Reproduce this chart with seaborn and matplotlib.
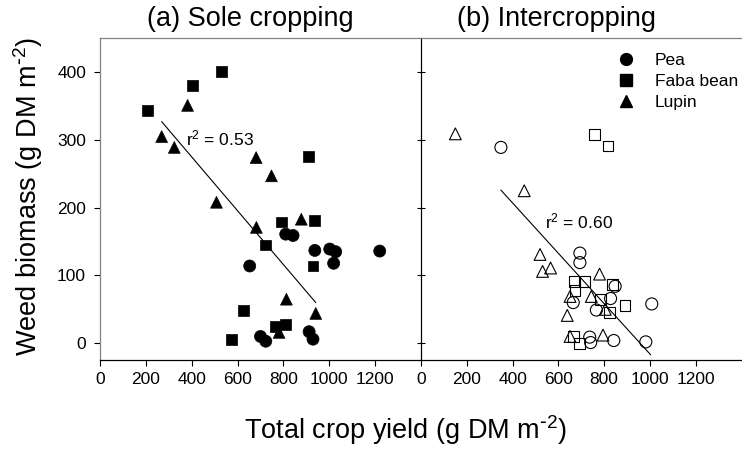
import seaborn as sns
import matplotlib.pyplot as plt
from matplotlib.lines import Line2D
import pandas as pd

# Sole cropping
sole_pea_x = [810, 842, 937, 1002, 1028, 1220, 653, 1019, 700, 723, 912, 929]
sole_pea_y = [161, 159, 137, 139, 135, 136, 114, 118, 10, 3, 17, 6]
sole_faba_x = [206, 404, 530, 910, 791, 937, 723, 929, 627, 767, 810, 573]
sole_faba_y = [343, 380, 401, 276, 179, 181, 145, 114, 48, 25, 28, 5]
sole_lupin_x = [382, 269, 324, 681, 748, 508, 878, 682, 813, 941, 781]
sole_lupin_y = [351, 305, 289, 274, 247, 208, 183, 171, 65, 44, 16]

# Intercropping
inter_pea_x = [349, 694, 694, 848, 665, 828, 1008, 766, 737, 741, 842, 982]
inter_pea_y = [289, 133, 119, 84, 60, 66, 58, 49, 9, 1, 4, 2]
inter_faba_x = [759, 817, 668, 716, 838, 673, 785, 891, 824, 665, 694]
inter_faba_y = [308, 291, 91, 91, 87, 78, 65, 56, 45, 10, 0]
inter_lupin_x = [150, 451, 780, 651, 744, 805, 639, 651, 795, 520, 531, 566]
inter_lupin_y = [309, 225, 102, 69, 69, 50, 41, 10, 12, 131, 106, 111]

# regression lines (end points)
sole_fit_x = [269, 941]
sole_fit_y = [327, 60]
inter_fit_x = [349, 1003]
inter_fit_y = [226, -17]

crops = ['Pea', 'Faba bean', 'Lupin']
markers = {'Pea': 'o', 'Faba bean': 's', 'Lupin': '^'}
sizes = {'Pea': 75, 'Faba bean': 60, 'Lupin': 72}
xticks = [0, 200, 400, 600, 800, 1000, 1200]
yticks = [0, 100, 200, 300, 400]


def make_df(px, py, fx, fy, lx, ly):
    return pd.DataFrame({
        'yield': px + fx + lx,
        'weed': py + fy + ly,
        'crop': ['Pea'] * len(px) + ['Faba bean'] * len(fx) + ['Lupin'] * len(lx),
    })


sole = make_df(sole_pea_x, sole_pea_y, sole_faba_x, sole_faba_y, sole_lupin_x, sole_lupin_y)
inter = make_df(inter_pea_x, inter_pea_y, inter_faba_x, inter_faba_y, inter_lupin_x, inter_lupin_y)

sns.set_style('white')
plt.rcParams['font.family'] = ['Liberation Sans', 'DejaVu Sans']
plt.rcParams['mathtext.default'] = 'regular'
for k in ('text.color', 'axes.labelcolor', 'xtick.color', 'ytick.color'):
    plt.rcParams[k] = 'black'

fig = plt.figure(figsize=(7.42, 4.51), dpi=100)
ax1 = fig.add_axes([100 / 742, 91.5 / 451, 321 / 742, 321.2 / 451])
ax2 = fig.add_axes([421 / 742, 91.5 / 451, 320.5 / 742, 321.2 / 451])

sns.scatterplot(data=sole, x='yield', y='weed', style='crop', markers=markers,
                size='crop', sizes=sizes, color='black', edgecolor='black',
                linewidth=0.5, legend=False, ax=ax1)
sns.scatterplot(data=inter, x='yield', y='weed', style='crop', markers=markers,
                size='crop', sizes=sizes, color='black', facecolor='none',
                edgecolor='black', linewidth=0.8, legend=False, ax=ax2)

ax1.plot(sole_fit_x, sole_fit_y, color='black', lw=0.8)
ax2.plot(inter_fit_x, inter_fit_y, color='black', lw=0.8)

ax1.text(377, 302, 'r$^2$ = 0.53', fontsize=12.5, va='center')
ax2.text(540, 180, 'r$^2$ = 0.60', fontsize=12.5, va='center')

for ax in (ax1, ax2):
    ax.set_xlim(0, 1400)
    ax.set_ylim(-24, 450)
    ax.set_xticks(xticks)
    ax.set_yticks(yticks)
    ax.set_xlabel('')
    ax.set_ylabel('')
    ax.tick_params(axis='x', direction='out', length=4, width=0.8, pad=5,
                   labelsize=12.5, bottom=True)
    for s in ax.spines.values():
        s.set_linewidth(0.9)
    ax.spines['top'].set_color('#808080')
    ax.spines['bottom'].set_color('black')

ax1.tick_params(axis='y', direction='out', length=4, width=0.8, pad=6,
                labelsize=12.5, left=True)
ax1.spines['left'].set_color('#808080')
ax1.spines['right'].set_visible(False)
ax2.spines['left'].set_color('black')
ax2.spines['right'].set_visible(False)
ax2.tick_params(axis='y', direction='inout', length=6, width=0.8,
                left=True, labelleft=False)

ax1.text(0.467, 1.02, '(a) Sole cropping', transform=ax1.transAxes,
         ha='center', va='bottom', fontsize=19.5)
ax2.text(0.424, 1.02, '(b) Intercropping', transform=ax2.transAxes,
         ha='center', va='bottom', fontsize=19.5)

handles = [Line2D([], [], marker=markers[c], color='black', linestyle='',
                  markersize=8.5) for c in crops]
ax2.legend(handles, crops, loc='upper right', bbox_to_anchor=(0.99, 0.955),
           frameon=False, fontsize=12.5, borderaxespad=0, borderpad=0,
           handletextpad=0.7, labelspacing=0.35)

fig.text(0.546, 0.027, 'Total crop yield (g DM m$^{\\text{-}2}$)', ha='center',
         va='baseline', fontsize=19.5)
fig.text(0.038, 0.565, 'Weed biomass (g DM m$^{\\text{-}2}$)', rotation=90,
         ha='center', va='center', fontsize=19.5)

fig.savefig('out.png', dpi=100)
